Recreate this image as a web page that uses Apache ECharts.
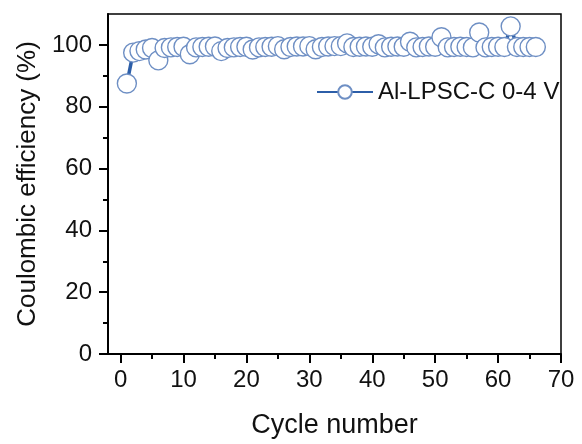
<!DOCTYPE html>
<html>
<head>
<meta charset="utf-8">
<script src="https://cdn.jsdelivr.net/npm/echarts@6/dist/echarts.min.js"></script>
<style>html,body{margin:0;padding:0;background:#fff;}#c{width:582px;height:444px;}</style>
</head>
<body>
<div id="c"></div>
<script>
var cycles = [];
for (var i = 1; i <= 66; i++) cycles.push(i);
var efficiency = [
  87.5, 97.5, 98, 98.5, 99, 95, 99, 99.2, 99.3, 99.4,
  97, 99.2, 99.3, 99.4, 99.5, 98, 99, 99.2, 99.3, 99.4,
  98.5, 99.2, 99.3, 99.4, 99.6, 98.6, 99.3, 99.5, 99.5, 99.6,
  98.6, 99.3, 99.5, 99.6, 99.6, 100.5, 99.3, 99.4, 99.5, 99.4,
  100.2, 99.2, 99.4, 99.5, 99.4, 101, 99.2, 99.3, 99.5, 99.4,
  102.5, 99.2, 99.3, 99.4, 99.3, 99.2, 104, 99.2, 99.3, 99.4,
  99.3, 106, 99.3, 99.3, 99.3, 99.3
];
var xMajorTicks = [0, 10, 20, 30, 40, 50, 60, 70];
var xMinorTicks = [5, 15, 25, 35, 45, 55, 65];
var yMajorTicks = [0, 20, 40, 60, 80, 100];
var yMinorTicks = [10, 30, 50, 70, 90];
var seriesName = 'Al-LPSC-C 0-4 V';

var font = 'Liberation Sans, Arial, sans-serif';
var chart = echarts.init(document.getElementById('c'));
chart.setOption({
  animation: false,
  grid: { left: 108, right: 21, top: 14, bottom: 90, show: true, borderColor: '#000', borderWidth: 1.5, backgroundColor: 'transparent' },
  legend: {
    data: [seriesName], left: 311, top: 75, itemWidth: 56, itemHeight: 17, itemGap: 6,
    textStyle: { fontFamily: font, fontSize: 24, color: '#111' }
  },
  xAxis: [{
    type: 'value', min: -2, max: 70,
    name: 'Cycle number', nameLocation: 'middle', nameGap: 58,
    nameTextStyle: { fontFamily: font, fontSize: 27, color: '#111' },
    axisLine: { onZero: false, lineStyle: { color: '#000', width: 2 } },
    axisTick: { customValues: xMajorTicks, length: 9, lineStyle: { color: '#000', width: 2 } },
    axisLabel: { customValues: xMajorTicks, fontFamily: font, fontSize: 24, color: '#111', margin: 14 },
    splitLine: { show: false }
  }, {
    type: 'value', min: -2, max: 70, position: 'bottom',
    axisLine: { show: false, onZero: false },
    axisTick: { customValues: xMinorTicks, length: 5, lineStyle: { color: '#000', width: 2 } },
    axisLabel: { show: false },
    splitLine: { show: false }
  }],
  yAxis: [{
    type: 'value', min: 0, max: 110,
    name: 'Coulombic efficiency (%)', nameLocation: 'middle', nameGap: 63,
    nameTextStyle: { fontFamily: font, fontSize: 26, color: '#111' },
    axisLine: { onZero: false, lineStyle: { color: '#000', width: 2 } },
    axisTick: { customValues: yMajorTicks, length: 9, lineStyle: { color: '#000', width: 2 } },
    axisLabel: { customValues: yMajorTicks, fontFamily: font, fontSize: 24, color: '#111', margin: 16 },
    splitLine: { show: false }
  }, {
    type: 'value', min: 0, max: 110, position: 'left',
    axisLine: { show: false, onZero: false },
    axisTick: { customValues: yMinorTicks, length: 5, lineStyle: { color: '#000', width: 2 } },
    axisLabel: { show: false },
    splitLine: { show: false }
  }],
  series: [{
    name: seriesName, type: 'line',
    data: cycles.map(function (c, i) { return [c, efficiency[i]]; }),
    symbol: 'circle', symbolSize: 19,
    lineStyle: { color: '#2c5ea8', width: 3.5 },
    itemStyle: { color: '#fff', borderColor: '#6e8fc4', borderWidth: 1.4 },
    emphasis: { disabled: true }
  }]
});
</script>
</body>
</html>
